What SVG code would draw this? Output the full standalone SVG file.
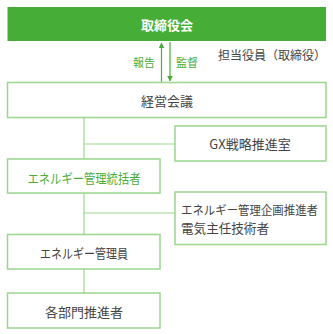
<svg xmlns="http://www.w3.org/2000/svg" width="333" height="334" viewBox="0 0 333 334">
<defs>
<style>
.box{fill:#fff;stroke:#9bd68c;stroke-width:1.5}
.t{font-family:"Noto Sans CJK JP","Noto Sans",sans-serif;font-size:13px;fill:#444;text-anchor:middle;dominant-baseline:central}
.g{fill:#4aad3a}
.ln{stroke:#9bd68c;stroke-width:1.2;fill:none}
.ar{stroke:#4aad3a;stroke-width:1.2;fill:none}
</style>
<marker id="ah" viewBox="0 0 10 10" refX="9" refY="5" markerWidth="5" markerHeight="5" orient="auto"><path d="M0,0L10,5L0,10z" fill="#4aad3a"/></marker>
</defs>
<rect width="333" height="334" fill="#fff"/>
<g id="connectors">
<line class="ar" x1="161.5" y1="82" x2="161.5" y2="43" marker-end="url(#ah)"/>
<line class="ar" x1="170" y1="42" x2="170" y2="81" marker-end="url(#ah)"/>
<line class="ln" x1="84" y1="118" x2="84" y2="159"/>
<line class="ln" x1="84" y1="144" x2="175" y2="144"/>
<line class="ln" x1="84" y1="193" x2="84" y2="234"/>
<line class="ln" x1="84" y1="213" x2="175" y2="213"/>
<line class="ln" x1="84" y1="269" x2="84" y2="293"/>
<text class="t g" x="155" y="62" style="text-anchor:end;font-size:11px">報告</text>
<text class="t g" x="176" y="62" style="text-anchor:start;font-size:11px">監督</text>
</g>
<g id="board">
<rect x="7.5" y="7" width="318.5" height="34" fill="#46ae36"/>
<text class="t" x="167" y="24" style="fill:#fff;font-weight:bold">取締役会</text>
</g>
<g id="officer">
<text class="t" x="218" y="54" style="text-anchor:start;font-size:12px">担当役員（取締役）</text>
</g>
<g id="mgmt">
<rect class="box" x="7.5" y="82.5" width="318.5" height="35"/>
<text class="t" x="167" y="100">経営会議</text>
</g>
<g id="gx">
<rect class="box" x="175" y="126" width="151" height="35"/>
<text class="t" x="250" y="143.5">GX戦略推進室</text>
</g>
<g id="supervisor">
<rect class="box" x="7.5" y="159" width="152.5" height="34"/>
<text class="t g" x="84" y="177" textLength="113" lengthAdjust="spacingAndGlyphs">エネルギー管理統括者</text>
</g>
<g id="planner">
<rect class="box" x="175" y="192" width="151" height="52.5"/>
<text class="t" x="181" y="209" style="text-anchor:start;font-size:12px" textLength="137" lengthAdjust="spacingAndGlyphs">エネルギー管理企画推進者</text>
<text class="t" x="181" y="227" style="text-anchor:start" textLength="88" lengthAdjust="spacingAndGlyphs">電気主任技術者</text>
</g>
<g id="manager">
<rect class="box" x="7.5" y="234.5" width="152.5" height="34.5"/>
<text class="t" x="84" y="252" textLength="88" lengthAdjust="spacingAndGlyphs">エネルギー管理員</text>
</g>
<g id="dept">
<rect class="box" x="7.5" y="293" width="152.5" height="35"/>
<text class="t" x="84" y="311">各部門推進者</text>
</g>
</svg>
